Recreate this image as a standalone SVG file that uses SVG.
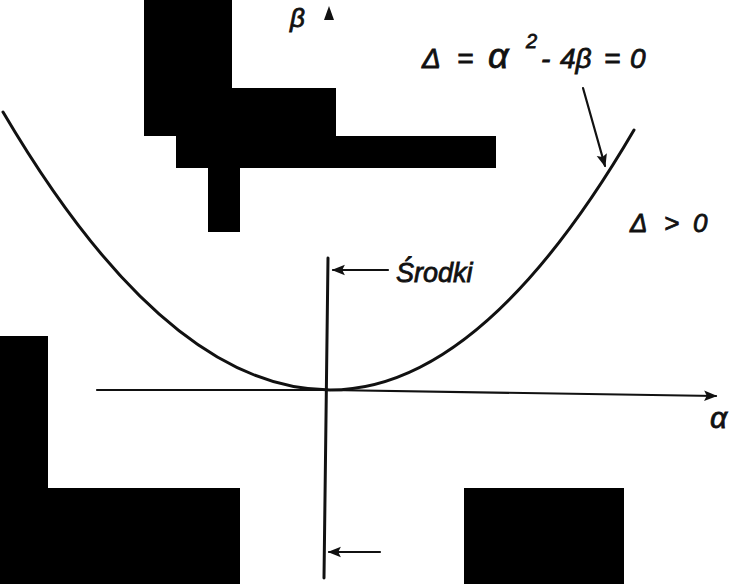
<svg xmlns="http://www.w3.org/2000/svg" width="736" height="584" viewBox="0 0 736 584">
<style>
.blk{fill:#000;stroke:none}
.ln{fill:none;stroke:#111;stroke-width:3;stroke-linecap:round}
.thin{fill:none;stroke:#111;stroke-width:2.2;stroke-linecap:round}
.t{font-family:"Liberation Sans",Arial,sans-serif;font-style:italic;fill:#111;stroke:#111;stroke-width:0.8}
</style>
<defs>
<marker id="ah" viewBox="0 0 10 10" refX="9" refY="5" markerWidth="9" markerHeight="6" orient="auto" markerUnits="strokeWidth">
<path d="M0,1 L10,5 L0,9 L2,5 Z" fill="#111"/>
</marker>
</defs>
<rect width="736" height="584" fill="#fff"/>
<g id="masks">
<path class="blk" d="M144,0 H232 V88 H336 V136 H496 V168 H240 V232 H208 V168 H176 V136 H144 Z"/>
<path class="blk" d="M0,336 H48 V488 H240 V584 H0 Z"/>
<rect class="blk" x="464" y="488" width="160" height="96"/>
</g>
<g id="connectors">
<path id="alpha-axis" class="thin" d="M97,390 L330,390 L716,396" marker-end="url(#ah)"/>
<path id="beta-axis" class="ln" d="M328,258 L324,578"/>
<polygon id="beta-arrowhead" points="329,6 334,20 324,20" fill="#111"/>
<path id="parabola" class="ln" d="M3,112 Q166.5,390 330,390 Q482,390 634,130"/>
<path id="arrow-delta" class="thin" d="M583,88 L605,166" marker-end="url(#ah)"/>
<path id="arrow-srodki" class="thin" d="M388,270 L333,270" marker-end="url(#ah)"/>
<path id="arrow-bottom" class="thin" d="M380,552 L329,552" marker-end="url(#ah)"/>
</g>
<g id="label-beta"><text class="t" x="290" y="27" font-size="26">β</text></g>
<g id="label-delta-eq">
<text class="t" font-size="28" y="68"><tspan x="422">Δ</tspan><tspan x="457">=</tspan><tspan x="488" font-size="36">α</tspan><tspan x="526" dy="-20" font-size="20">2</tspan><tspan x="541" dy="20">-</tspan><tspan x="560">4β</tspan><tspan x="604">=</tspan><tspan x="630">0</tspan></text>
</g>
<g id="label-delta-pos"><text class="t" font-size="26" y="232"><tspan x="630">Δ</tspan><tspan x="664">&gt;</tspan><tspan x="693">0</tspan></text></g>
<g id="label-srodki"><text class="t" x="396" y="282" font-size="27">Środki</text></g>
<g id="label-alpha"><text class="t" x="710" y="428" font-size="30">α</text></g>
</svg>
